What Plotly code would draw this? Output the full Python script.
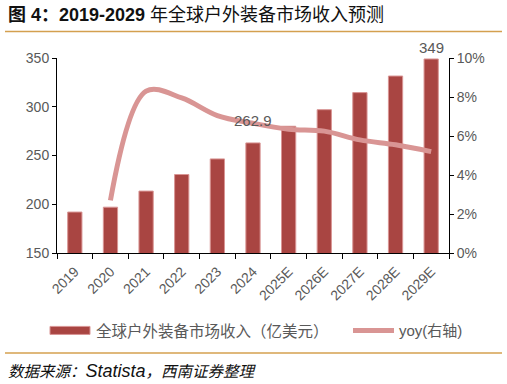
import plotly.graph_objects as go

years = ["2019", "2020", "2021", "2022", "2023", "2024", "2025E", "2026E", "2027E", "2028E", "2029E"]
revenue = [192, 197, 213.5, 230.5, 246.5, 262.9, 280, 297, 314.5, 331.5, 349]
yoy_years = years[1:]
yoy = [0.027, 0.083, 0.0795, 0.0705, 0.0665, 0.0635, 0.0625, 0.058, 0.0555, 0.052]
labeled = {"2024": "262.9", "2029E": "349"}

title_num = "图 4：2019-2029 "
title_cn = "年全球户外装备市场收入预测"
source_a = "数据来源："
source_b = "Statista"
source_c = "，西南证券整理"
legend_bar = "全球户外装备市场收入（亿美元）"
legend_line = "yoy(右轴)"

BAR = "#A94542"
LINE = "#D99594"
GRAY = "#595959"
GOLD = "#D4A04F"
CJK = "Noto Sans CJK SC"
LAT = "Liberation Sans"

W, H = 507, 384
L, R, T, B = 57, 449, 58, 252.7


def px(xp):
    return (xp - L) / (R - L)


def py(yp):
    return (B - yp) / (B - T)


fig = go.Figure()
fig.add_trace(go.Bar(
    x=years, y=revenue, width=0.4,
    marker=dict(color=BAR, line=dict(color="#D99594", width=1)),
    showlegend=False, hoverinfo="skip",
))
fig.add_trace(go.Scatter(
    x=yoy_years, y=yoy, mode="lines", yaxis="y2",
    line=dict(color=LINE, width=5, shape="spline", smoothing=1.0),
    showlegend=False, hoverinfo="skip",
))

anns = []
for yr, txt in labeled.items():
    i = years.index(yr)
    anns.append(dict(x=i, y=revenue[i], xref="x", yref="y", text=txt,
                     showarrow=False, yanchor="bottom",
                     yshift=12 if yr == "2024" else 1,
                     font=dict(family=LAT, size=15, color=GRAY)))

anns.append(dict(x=px(6), y=py(15), xref="paper", yref="paper",
                 text=f"<b>{title_num}</b>{title_cn}",
                 showarrow=False, xanchor="left", yanchor="middle",
                 font=dict(family=f"{LAT}, {CJK}", size=18, color="#111111")))
anns.append(dict(x=px(6), y=py(371), xref="paper", yref="paper",
                 text=(f"<i>{source_a}<span style='font-size:18px'>{source_b}</span>"
                       f"{source_c}</i>"),
                 showarrow=False, xanchor="left", yanchor="middle",
                 font=dict(family=f"{LAT}, {CJK}", size=15.5, color="#111111")))
anns.append(dict(x=px(94), y=py(330), xref="paper", yref="paper", text=legend_bar, showarrow=False,
                 xanchor="left", yanchor="middle", font=dict(family=CJK, size=15.5, color=GRAY)))
anns.append(dict(x=px(397), y=py(330), xref="paper", yref="paper", text=legend_line, showarrow=False,
                 xanchor="left", yanchor="middle",
                 font=dict(family=f"{LAT}, {CJK}", size=15, color=GRAY)))

shapes = [
    dict(type="line", xref="paper", yref="paper", x0=px(5), x1=px(502), y0=py(31.5), y1=py(31.5),
         line=dict(color=GOLD, width=1.5)),
    dict(type="line", xref="paper", yref="paper", x0=px(5), x1=px(502), y0=py(352.5), y1=py(352.5),
         line=dict(color=GOLD, width=1.5)),
    dict(type="rect", xref="paper", yref="paper", x0=px(50), x1=px(90), y0=py(326), y1=py(334),
         fillcolor=BAR, line=dict(color="#D99594", width=1)),
    dict(type="line", xref="paper", yref="paper", x0=px(353), x1=px(394), y0=py(330), y1=py(330),
         line=dict(color=LINE, width=5)),
]

fig.update_layout(
    width=W, height=H,
    margin=dict(l=L, r=W - R, t=T, b=H - B, autoexpand=False),
    paper_bgcolor="white", plot_bgcolor="white",
    annotations=anns, shapes=shapes, hovermode=False,
    xaxis=dict(type="category", categoryorder="array", categoryarray=years,
               range=[-0.5, len(years) - 0.5], domain=[0, 1],
               showline=True, linecolor="black", linewidth=1,
               ticks="outside", ticklen=5, tickcolor="black", tickson="boundaries",
               tickangle=-45, showgrid=False, ticklabelstandoff=4,
               tickfont=dict(family=LAT, size=14, color=GRAY)),
    yaxis=dict(range=[150, 350], dtick=50, showline=True, linecolor="black", linewidth=1,
               ticks="outside", ticklen=4, tickcolor="black", showgrid=False, zeroline=False,
               tickfont=dict(family=LAT, size=14, color=GRAY)),
    yaxis2=dict(range=[0, 0.1], dtick=0.02, tickformat=".0%", overlaying="y", side="right",
                showline=True, linecolor="black", linewidth=1, ticks="outside", ticklen=4,
                tickcolor="black", showgrid=False, zeroline=False,
                tickfont=dict(family=LAT, size=14, color=GRAY)),
)

fig.write_html("out.html", config={"displayModeBar": False},
               post_script="document.body.style.margin='0';")
